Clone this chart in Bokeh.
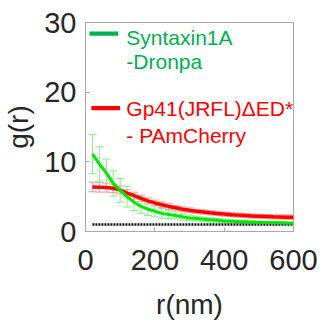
from bokeh.plotting import figure
from bokeh.models import ColumnDataSource, Whisker, TeeHead, Label, BoxAnnotation, FixedTicker, Range1d
from bokeh.embed import file_html
from bokeh.resources import INLINE

# ---- data ----
r_nm = [20, 40, 60, 80, 100, 120, 140, 160, 180, 200,
        220, 240, 260, 280, 300, 320, 340, 360, 380, 400,
        420, 440, 460, 480, 500, 520, 540, 560, 580, 600]
syntaxin_g = [11.1, 9.7, 8.4, 6.9, 5.9, 5.0, 4.2, 3.6, 3.2, 2.9,
              2.6, 2.45, 2.3, 2.1, 1.95, 1.85, 1.75, 1.67, 1.6, 1.52,
              1.47, 1.42, 1.38, 1.34, 1.31, 1.28, 1.26, 1.24, 1.22, 1.2]
syntaxin_err = [2.8, 2.45, 2.0, 1.8, 1.7, 1.5, 1.2, 1.0, 0.9, 0.8,
                0.7, 0.6, 0.5, 0.45, 0.4, 0.35, 0.3, 0.3, 0.25, 0.25,
                0.2, 0.2, 0.2, 0.2, 0.15, 0.15, 0.15, 0.15, 0.15, 0.15]
gp41_g = [6.4, 6.35, 6.3, 6.2, 5.95, 5.5, 5.15, 4.75, 4.4, 4.1,
          3.85, 3.6, 3.4, 3.2, 3.05, 2.9, 2.8, 2.68, 2.58, 2.5,
          2.42, 2.35, 2.28, 2.22, 2.18, 2.14, 2.1, 2.08, 2.06, 2.05]
gp41_err = [0.7, 0.7, 0.65, 0.6, 0.55, 0.5, 0.5, 0.45, 0.45, 0.4,
            0.4, 0.4, 0.35, 0.35, 0.35, 0.3, 0.3, 0.3, 0.3, 0.3,
            0.3, 0.3, 0.3, 0.3, 0.3, 0.3, 0.3, 0.3, 0.3, 0.3]
control_g = [1.0, 1.0, 1.0, 1.0, 1.0, 1.0, 1.0, 1.0, 1.0, 1.0,
             1.0, 1.0, 1.0, 1.0, 1.0, 1.0, 1.0, 1.0, 1.0, 1.0,
             1.0, 1.0, 1.0, 1.0, 1.0, 1.0, 1.0, 1.0, 1.0, 1.0]
x_ticks = [0, 200, 400, 600]
y_ticks = [0, 10, 20, 30]
legend_lines = ["Syntaxin1A", "-Dronpa", "Gp41(JRFL)\u0394ED*", "- PAmCherry"]

FONT = "Liberation Sans"
GREEN = "#00E800"
GREEN_LEG = "#00B050"
RED = "#FF0000"
AXIS = "#A8A8A8"
TXT = "#262626"

p = figure(width=323, height=323, output_backend="svg", toolbar_location=None,
           x_range=Range1d(0, 600), y_range=Range1d(0, 30),
           min_border_left=84, min_border_top=22, min_border_right=30, min_border_bottom=92)
p.xgrid.visible = False
p.ygrid.visible = False
p.outline_line_color = AXIS
p.background_fill_color = "white"
p.border_fill_color = "white"

for ax in (p.xaxis[0], p.yaxis[0]):
    ax.axis_line_color = AXIS
    ax.major_tick_line_color = AXIS
    ax.major_tick_in = 4
    ax.major_tick_out = 0
    ax.minor_tick_line_color = None
    ax.major_label_text_font = FONT
    ax.major_label_text_font_size = "29px"
    ax.major_label_text_color = TXT
    ax.axis_label_text_font = FONT
    ax.axis_label_text_font_size = "28px"
    ax.axis_label_text_font_style = "normal"
    ax.axis_label_text_color = TXT

p.xaxis.ticker = FixedTicker(ticks=x_ticks)
p.yaxis.ticker = FixedTicker(ticks=y_ticks)
p.xaxis.axis_label = "r(nm)"
p.yaxis.axis_label = "g(r)"
p.xaxis.major_label_standoff = 18
p.xaxis.axis_label_standoff = 16
p.yaxis.major_label_standoff = 9
p.yaxis.axis_label_standoff = 7

src = ColumnDataSource(dict(
    r=r_nm,
    sg=syntaxin_g,
    s_up=[g + e for g, e in zip(syntaxin_g, syntaxin_err)],
    s_lo=[g - e for g, e in zip(syntaxin_g, syntaxin_err)],
    gg=gp41_g,
    g_up=[g + e for g, e in zip(gp41_g, gp41_err)],
    g_lo=[g - e for g, e in zip(gp41_g, gp41_err)],
    cg=control_g,
))

# control (random) line
p.line("r", "cg", source=src, line_color="#111111", line_width=2.5, line_dash="2 1")

# error bars
w_red = Whisker(source=src, base="r", upper="g_up", lower="g_lo", dimension="height",
                line_color="#FF8080", line_alpha=0.8, line_width=1, level="underlay",
                upper_head=TeeHead(size=8, line_color="#FF8080", line_alpha=0.8, line_width=1),
                lower_head=TeeHead(size=8, line_color="#FF8080", line_alpha=0.8, line_width=1))
w_green = Whisker(source=src, base="r", upper="s_up", lower="s_lo", dimension="height",
                  line_color="#70EE70", line_alpha=0.85, line_width=1, level="underlay",
                  upper_head=TeeHead(size=8, line_color="#70EE70", line_alpha=0.85, line_width=1),
                  lower_head=TeeHead(size=8, line_color="#70EE70", line_alpha=0.85, line_width=1))
p.add_layout(w_red)
p.add_layout(w_green)

p.line("r", "gg", source=src, line_color=RED, line_width=3.5)
p.line("r", "sg", source=src, line_color=GREEN, line_width=3)

# legend (custom, coloured text)
p.add_layout(BoxAnnotation(left=11.5, right=94.7, bottom=28.1, top=28.7,
                           fill_color=GREEN_LEG, fill_alpha=1, line_alpha=0))
p.add_layout(BoxAnnotation(left=17.0, right=100.0, bottom=17.4, top=18.0,
                           fill_color=RED, fill_alpha=1, line_alpha=0))
leg_pos = [(117.7, 27.85, GREEN_LEG), (117.7, 24.4, GREEN_LEG),
           (117.7, 17.6, RED), (117.7, 13.85, RED)]
for txt, (lx, ly, col) in zip(legend_lines, leg_pos):
    p.add_layout(Label(x=lx, y=ly, text=txt, text_font=FONT, text_font_size="21px",
                       text_color=col, text_baseline="middle", text_align="left"))

open("out.html", "w").write(file_html(p, INLINE))
